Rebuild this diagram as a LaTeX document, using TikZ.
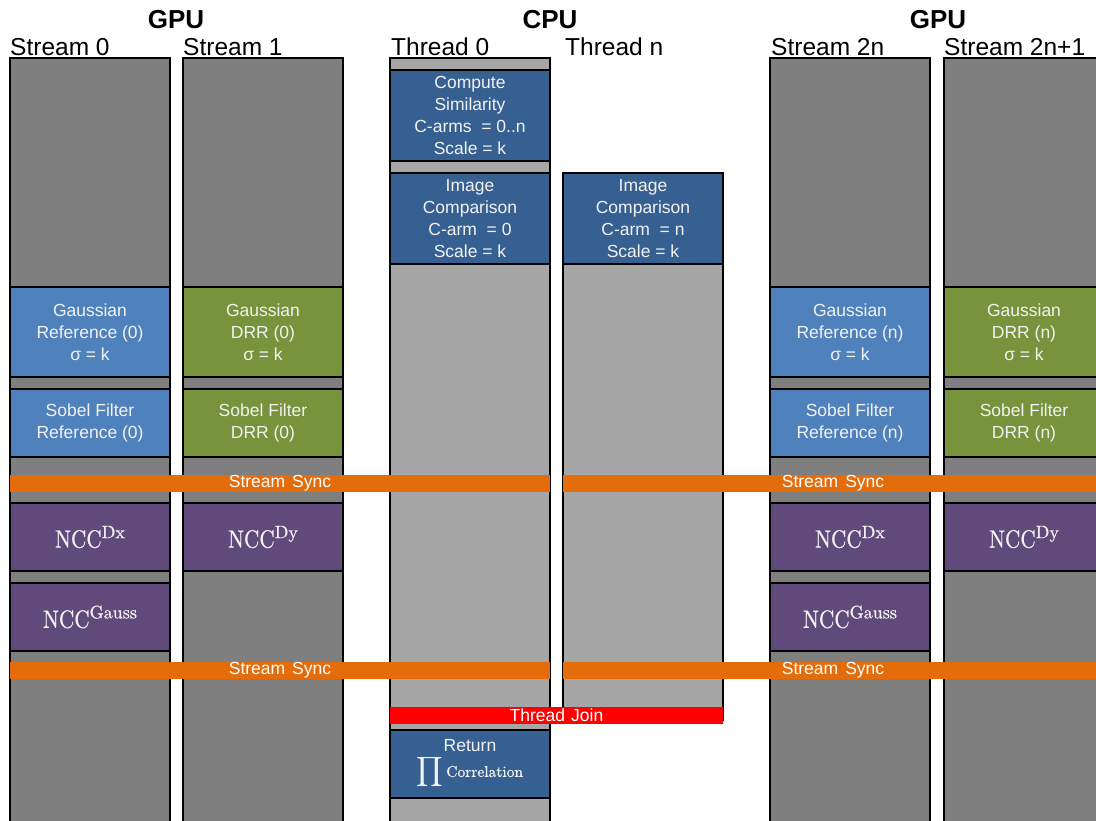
\documentclass[tikz,border=0pt]{standalone}
\usepackage{amsmath}
\usepackage{fontspec}
\setsansfont{Liberation Sans}
\newfontfamily\nccfont{lmroman10-regular.otf}[FakeBold=0.7]
\definecolor{sgray}{HTML}{7F7F7F}
\definecolor{cgray}{HTML}{A6A6A6}
\definecolor{dblue}{HTML}{376092}
\definecolor{lblue}{HTML}{4F81BD}
\definecolor{ggreen}{HTML}{77933C}
\definecolor{ppurple}{HTML}{604A7B}
\definecolor{oorange}{HTML}{E46C0A}
\definecolor{txt}{HTML}{F2F2F2}
\newcommand{\nccsup}[1]{\scalebox{0.85}[1]{\fontsize{25}{26}\selectfont NCC}\raisebox{9.5pt}{\fontsize{18}{18}\selectfont #1}}
\begin{document}
\begin{tikzpicture}[x=1pt,y=-1pt,
  col/.style={draw=black, line width=1.3pt, anchor=north west, minimum width=160pt, inner sep=0pt, outer sep=0pt},
  gcol/.style={col, fill=sgray, minimum height=780pt},
  blk/.style={col, text=txt, font=\sffamily\fontsize{17.5}{22}\selectfont, align=center},
  ncc/.style={col, fill=ppurple, minimum height=68pt, text=txt, font=\nccfont},
  bar/.style={anchor=north west, inner sep=0pt, outer sep=0pt, minimum height=17pt, text=white, font=\sffamily\fontsize{17.5}{17}\selectfont},
  hdr/.style={font=\sffamily\bfseries\fontsize{26}{28}\selectfont, anchor=base, inner sep=0pt},
  lbl/.style={font=\sffamily\fontsize{24.5}{26}\selectfont, anchor=base west, inner sep=0pt},
]
\useasboundingbox (0,0) rectangle (1096,820);
% headers
\node[hdr] (h1) at (176,28) {GPU};
\node[hdr] (h2) at (550,28) {CPU};
\node[hdr] (h3) at (938,28) {GPU};
\node[lbl] (l1) at (10,55) {Stream 0};
\node[lbl] (l2) at (183,55) {Stream 1};
\node[lbl] (l3) at (391,55) {Thread 0};
\node[lbl] (l4) at (565,55) {Thread n};
\node[lbl] (l5) at (771,55) {Stream 2n};
\node[lbl] (l6) at (944,55) {Stream 2n+1};
% columns
\node[gcol] (c1) at (10,58) {};
\node[gcol] (c2) at (183,58) {};
\node[gcol, fill=cgray] (c3) at (390,58) {};
\node[col, fill=cgray, minimum height=547pt] (c4) at (563,173) {};
\node[gcol] (c5) at (770,58) {};
\node[gcol] (c6) at (944,58) {};
% CPU boxes
\node[blk, fill=dblue, minimum height=91pt] (cs) at (390,70) {Compute\\Similarity\\C-arms\ \ = 0..n\\Scale = k};
\node[blk, fill=dblue, minimum height=91pt] (ic0) at (390,173) {Image\\Comparison\\C-arm\ \ = 0\\Scale = k};
\node[blk, fill=dblue, minimum height=91pt] (icn) at (563,173) {Image\\Comparison\\C-arm\ \ = n\\Scale = k};
\node[blk, fill=dblue, minimum height=68pt] (ret) at (390,730) {Return\\[3pt]{\fontsize{21}{22}\selectfont$\displaystyle\prod$}\,{\nccfont\fontsize{15.5}{16}\selectfont Correlation}};
% GPU boxes stream 0
\node[blk, fill=lblue, minimum height=90pt] (g0) at (10,287) {Gaussian\\Reference (0)\\σ = k};
\node[blk, fill=lblue, minimum height=68pt] (s0) at (10,389) {Sobel Filter\\Reference (0)};
\node[ncc] (dx0) at (10,503) {\nccsup{Dx}};
\node[ncc] (ga0) at (10,583) {\nccsup{Gauss}};
% stream 1
\node[blk, fill=ggreen, minimum height=90pt] (g1) at (183,287) {Gaussian\\DRR (0)\\σ = k};
\node[blk, fill=ggreen, minimum height=68pt] (s1) at (183,389) {Sobel Filter\\DRR (0)};
\node[ncc] (dy1) at (183,503) {\nccsup{Dy}};
% stream 2n
\node[blk, fill=lblue, minimum height=90pt] (g2) at (770,287) {Gaussian\\Reference (n)\\σ = k};
\node[blk, fill=lblue, minimum height=68pt] (s2) at (770,389) {Sobel Filter\\Reference (n)};
\node[ncc] (dx2) at (770,503) {\nccsup{Dx}};
\node[ncc] (ga2) at (770,583) {\nccsup{Gauss}};
% stream 2n+1
\node[blk, fill=ggreen, minimum height=90pt] (g3) at (944,287) {Gaussian\\DRR (n)\\σ = k};
\node[blk, fill=ggreen, minimum height=68pt] (s3) at (944,389) {Sobel Filter\\DRR (n)};
\node[ncc] (dy3) at (944,503) {\nccsup{Dy}};
% sync bars
\node[bar, fill=oorange, minimum width=540pt] (sy1) at (10,475) {Stream\hspace{7pt}Sync};
\node[bar, fill=oorange, minimum width=540pt] (sy2) at (563,475) {Stream\hspace{7pt}Sync};
\node[bar, fill=oorange, minimum width=540pt] (sy3) at (10,662) {Stream\hspace{7pt}Sync};
\node[bar, fill=oorange, minimum width=540pt] (sy4) at (563,662) {Stream\hspace{7pt}Sync};
\node[bar, fill=red, minimum width=333pt] (tj) at (390,707) {Thread\hspace{6pt}Join};
\end{tikzpicture}
\end{document}
